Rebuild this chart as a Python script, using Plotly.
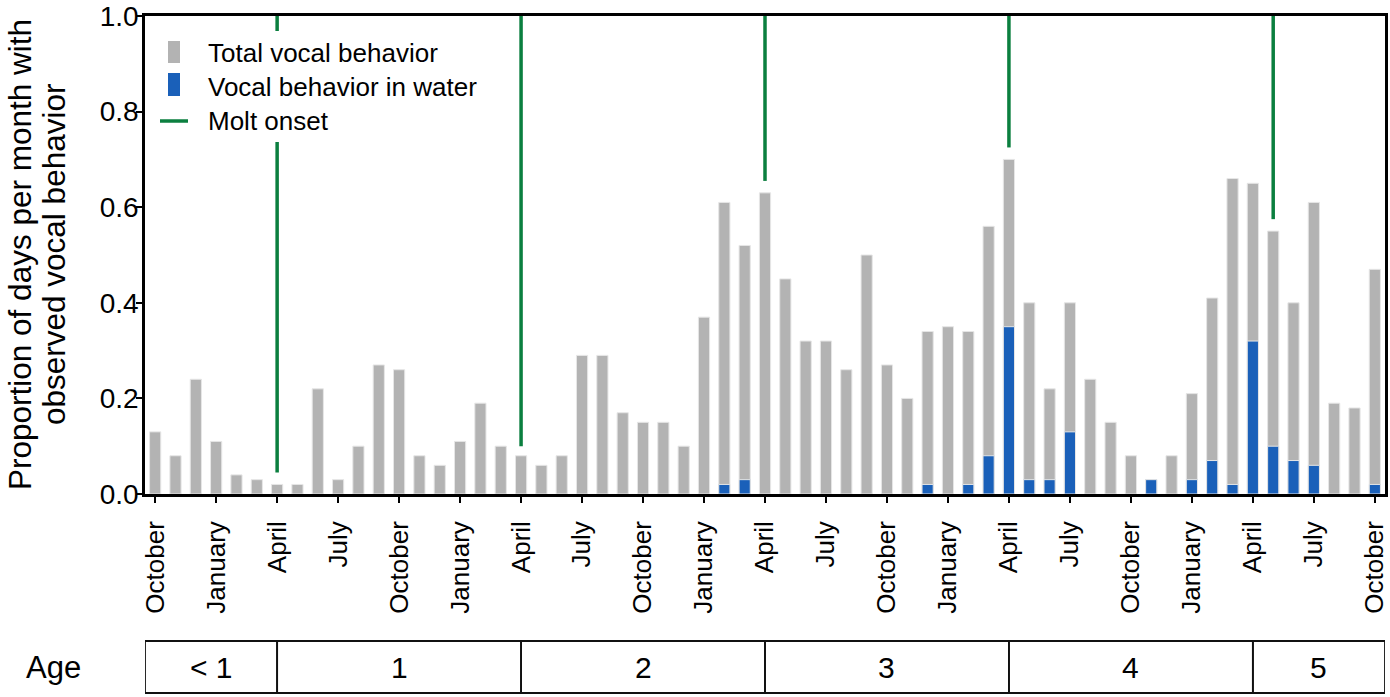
import plotly.graph_objects as go

# ---------------- data ----------------
month_index = list(range(61))  # October (age < 1) ... October (age 5)

tick_index = list(range(0, 61, 3))
tick_labels = ["October", "January", "April", "July"] * 5 + ["October"]

y_tick_values = [0.0, 0.2, 0.4, 0.6, 0.8, 1.0]
y_tick_labels = ["0.0", "0.2", "0.4", "0.6", "0.8", "1.0"]

total_vocal = [0.13, 0.08, 0.24, 0.11, 0.04, 0.03, 0.02, 0.02, 0.22, 0.03,
               0.10, 0.27, 0.26, 0.08, 0.06, 0.11, 0.19, 0.10, 0.08, 0.06,
               0.08, 0.29, 0.29, 0.17, 0.15, 0.15, 0.10, 0.37, 0.61, 0.52,
               0.63, 0.45, 0.32, 0.32, 0.26, 0.50, 0.27, 0.20, 0.34, 0.35,
               0.34, 0.56, 0.70, 0.40, 0.22, 0.40, 0.24, 0.15, 0.08, 0.03,
               0.08, 0.21, 0.41, 0.66, 0.65, 0.55, 0.40, 0.61, 0.19, 0.18,
               0.47]

water_vocal = [0, 0, 0, 0, 0, 0, 0, 0, 0, 0,
               0, 0, 0, 0, 0, 0, 0, 0, 0, 0,
               0, 0, 0, 0, 0, 0, 0, 0, 0.02, 0.03,
               0, 0, 0, 0, 0, 0, 0, 0, 0.02, 0,
               0.02, 0.08, 0.35, 0.03, 0.03, 0.13, 0, 0, 0, 0.03,
               0, 0.03, 0.07, 0.02, 0.32, 0.10, 0.07, 0.06, 0, 0,
               0.02]

molt_month = [6, 18, 30, 42, 55]
molt_bottom = [0.045, 0.10, 0.655, 0.725, 0.575]

age_labels = ["< 1", "1", "2", "3", "4", "5"]
age_bounds = [-0.5, 6, 18, 30, 42, 54, 60.5]

y_title_lines = ["Proportion of days per month with", "observed vocal behavior"]

# ---------------- style ----------------
GRAY = "#b3b3b3"
BLUE = "#1a60b9"
GREEN = "#0b7f3f"
FONT = "Liberation Sans, Arial, sans-serif"

W, H = 1390, 697
L, R, T, B = 145, 5, 16, 203
PW, PH = W - L - R, H - T - B


def px(xp):
    return (xp - L) / PW


def py(yp):
    return (H - B - yp) / PH


fig = go.Figure()

fig.add_trace(go.Bar(
    x=month_index, y=total_vocal, width=0.55, name="Total vocal behavior",
    marker=dict(color=GRAY, line=dict(color="#e6e6e6", width=1)),
    showlegend=False))

fig.add_trace(go.Bar(
    x=month_index, y=[v if v > 0 else None for v in water_vocal], width=0.55,
    name="Vocal behavior in water",
    marker=dict(color=BLUE, line=dict(color="#e6e6e6", width=1)),
    showlegend=False))

for m, b in zip(molt_month, molt_bottom):
    fig.add_trace(go.Scatter(
        x=[m, m], y=[b, 1.0], mode="lines", name="Molt onset",
        line=dict(color=GREEN, width=3.5), showlegend=False,
        cliponaxis=False))

shapes = []
annotations = []

# manual legend
shapes.append(dict(type="rect", xref="paper", yref="paper", layer="above",
                   x0=px(158), x1=px(482), y0=py(31), y1=py(142),
                   fillcolor="white", line=dict(width=0)))
shapes.append(dict(type="rect", xref="paper", yref="paper", layer="above",
                   x0=px(168), x1=px(180), y0=py(41), y1=py(63),
                   fillcolor=GRAY, line=dict(width=0)))
shapes.append(dict(type="rect", xref="paper", yref="paper", layer="above",
                   x0=px(168), x1=px(180), y0=py(73), y1=py(96),
                   fillcolor=BLUE, line=dict(width=0)))
shapes.append(dict(type="line", xref="paper", yref="paper", layer="above",
                   x0=px(160), x1=px(188), y0=py(121), y1=py(121),
                   line=dict(color=GREEN, width=3.5)))
for txt, yc in [("Total vocal behavior", 53), ("Vocal behavior in water", 87),
                ("Molt onset", 121)]:
    annotations.append(dict(text=txt, xref="paper", yref="paper",
                            x=px(206), y=py(yc), xanchor="left",
                            yanchor="middle", showarrow=False,
                            font=dict(size=26, color="black", family=FONT)))

# y-axis title (two lines, tight spacing)
for txt, xc in zip(y_title_lines, [20, 54]):
    annotations.append(dict(text=txt, xref="paper", yref="paper",
                            x=px(xc), y=0.5, xanchor="center",
                            yanchor="middle", textangle=-90, showarrow=False,
                            font=dict(size=31.5, color="black", family=FONT)))

# age row
for i, lab in enumerate(age_labels):
    x0, x1 = age_bounds[i], age_bounds[i + 1]
    shapes.append(dict(type="rect", xref="x", yref="paper",
                       x0=x0, x1=x1, y0=py(641), y1=py(693),
                       line=dict(color="#111111", width=1.8),
                       fillcolor="rgba(0,0,0,0)"))
    annotations.append(dict(text=lab, xref="x", yref="paper",
                            x=(x0 + x1) / 2, y=py(667), showarrow=False,
                            xanchor="center", yanchor="middle",
                            font=dict(size=30, color="black", family=FONT)))
annotations.append(dict(text="Age", xref="paper", yref="paper",
                        x=px(53), y=py(667), showarrow=False,
                        xanchor="center", yanchor="middle",
                        font=dict(size=31, color="black", family=FONT)))

fig.update_layout(
    width=W, height=H,
    margin=dict(l=L, r=R, t=T, b=B),
    paper_bgcolor="white", plot_bgcolor="white",
    font=dict(family=FONT, color="black"),
    barmode="overlay",
    shapes=shapes, annotations=annotations,
    xaxis=dict(range=[-0.5, 60.5], tickmode="array", tickvals=tick_index,
               ticktext=tick_labels, tickangle=-90, ticks="outside",
               ticklen=6, tickwidth=2, tickcolor="black",
               showline=True, linewidth=2.5, linecolor="black", mirror=True,
               showgrid=False, zeroline=False,
               tickfont=dict(size=26, color="black", family=FONT),
               ticklabelstandoff=8, automargin=False),
    yaxis=dict(range=[0, 1], tickmode="array", tickvals=y_tick_values,
               ticktext=y_tick_labels, ticks="outside", ticklen=6,
               tickwidth=2, tickcolor="black", showline=True, linewidth=2.5,
               linecolor="black", mirror=True, showgrid=False, zeroline=False,
               tickfont=dict(size=28, color="black", family=FONT),
               ticklabeloverflow="allow", automargin=False),
)

try:
    fig.update_yaxes(ticklabelstandoff=-8)
except Exception:
    pass

fig.write_html("out.html", config={"displayModeBar": False},
               post_script="document.body.style.margin='0';")
